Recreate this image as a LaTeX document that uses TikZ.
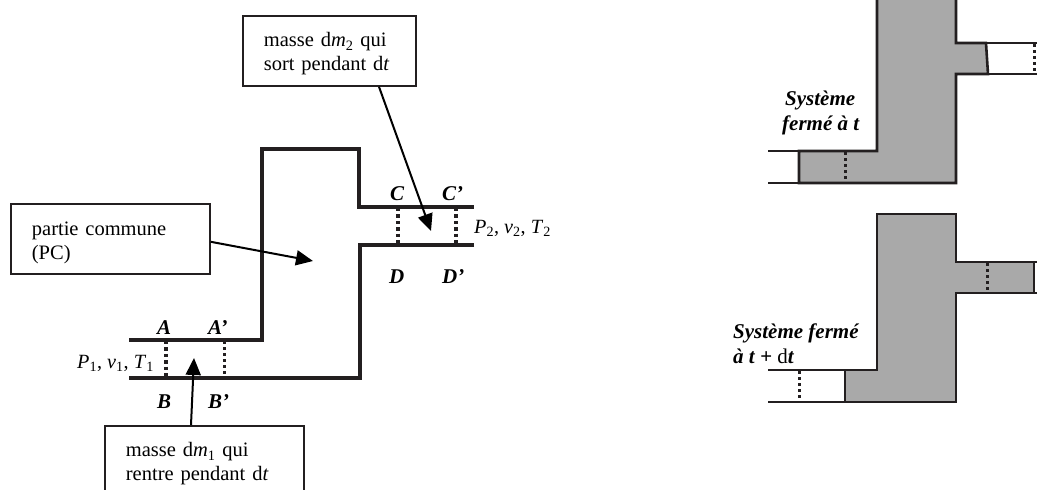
\documentclass[tikz,border=0pt]{standalone}
\usepackage{fontspec}
\setmainfont{Liberation Serif}
\usetikzlibrary{arrows.meta}
\definecolor{ink}{HTML}{231F20}
\definecolor{sysgray}{HTML}{A9A9A9}
\newcommand{\boxlines}[4]{\rule{0pt}{#1pt}#3\\#4\rule[-#2pt]{0pt}{0pt}}
\tikzset{
  x=1pt,y=-1pt,
  every node/.style={font=\fontsize{20.5}{24}\selectfont,text=black},
  callout/.style={draw=ink,line width=1.8pt,fill=white,align=left,inner xsep=21pt,inner ysep=0pt,anchor=north west},
  pointlabel/.style={anchor=base west,inner sep=0pt,font=\fontsize{21}{24}\selectfont\bfseries\itshape},
  statelabel/.style={anchor=base west,inner sep=0pt,font=\fontsize{20.2}{24}\selectfont},
  wall/.style={draw=ink,line width=3.3pt,line join=miter},
  wallthick/.style={draw=ink,line width=4.6pt,line join=miter},
  section/.style={draw=ink,line width=3.2pt,dash pattern=on 3.4pt off 3pt},
  sectionthin/.style={draw=ink,line width=3pt,dash pattern=on 3pt off 3pt},
  pointer/.style={draw=black,line width=2pt,-{Triangle[length=17pt,width=15pt]}},
  syswall/.style={draw=ink,line width=2.6pt,line join=miter},
  sysfill/.style={fill=sysgray,draw=ink,line width=2.6pt,line join=miter},
}
\begin{document}
\begin{tikzpicture}
\useasboundingbox (0,0) rectangle (1037,490);
% left diagram: walls
\draw[wall] (129,340) -- (262,340);
\draw[wallthick] (262,342) -- (262,149) -- (361,149);
\draw[wall] (359,148) -- (359,207) -- (474,207);
\draw[wall] (474,245) -- (360,245) -- (360,378) -- (129,378);
% sections
\draw[section] (166,341) -- (166,377);
\draw[sectionthin] (224,341) -- (224,377);
\draw[section] (398,208) -- (398,244);
\draw[section] (456,208) -- (456,244);
% callouts
\node[callout,text width=131pt,minimum height=70pt] (outbox) at (242,15)
  {\boxlines{22}{6}{masse d\textit{m}\textsubscript{2} qui}{sort pendant d\textit{t}}};
\node[callout,text width=157pt,minimum height=70pt] (pcbox) at (10,203)
  {\boxlines{24}{6}{partie commune}{(PC)}};
\node[callout,text width=157pt,minimum height=90pt] (inbox) at (104,425)
  {\boxlines{20}{24}{masse d\textit{m}\textsubscript{1} qui}{rentre pendant d\textit{t}}};
% pointers
\coordinate (outtip) at (431,231);
\coordinate (pctip) at (313,261);
\coordinate (intip) at (194,358);
\draw[pointer] ([xshift=137pt]outbox.south west) -- (outtip);
\draw[pointer] ([yshift=33pt]pcbox.south east) -- (pctip);
\draw[pointer] ([xshift=87pt]inbox.north west) -- (intip);
% point labels
\node[pointlabel] (lA) at (157,334) {A};
\node[pointlabel] (lAp) at (208,334) {A’};
\node[pointlabel] (lB) at (157,408) {B};
\node[pointlabel] (lBp) at (208,408) {B’};
\node[pointlabel] (lC) at (390,200) {C};
\node[pointlabel] (lCp) at (442,200) {C’};
\node[pointlabel] (lD) at (389,283) {D};
\node[pointlabel] (lDp) at (442,283) {D’};
\node[statelabel] (st1) at (77,368) {\textit{P}\textsubscript{1}, \textit{v}\textsubscript{1}, \textit{T}\textsubscript{1}};
\node[statelabel] (st2) at (474,233) {\textit{P}\textsubscript{2}, \textit{v}\textsubscript{2}, \textit{T}\textsubscript{2}};
% system closed at t
\path[sysfill] (799,151) -- (877,151) -- (877,-5) -- (956,-5) -- (956,43) -- (986,43)
  -- (988,74) -- (956,74) -- (956,183) -- (799,183) -- cycle;
\draw[syswall] (768,151) -- (799,151);
\draw[syswall] (768,183) -- (799,183);
\draw[syswall] (986,43) -- (1040,43);
\draw[syswall] (988,74) -- (1040,74);
\draw[sectionthin] (845,152) -- (845,182);
\draw[sectionthin] (1034,44) -- (1034,73);
\node[pointlabel] (sysA1) at (785,105) {Système};
\node[pointlabel] (sysA2) at (782,130) {fermé à t};
% system closed at t + dt
\path[sysfill] (845,370) -- (877,370) -- (877,214) -- (956,214) -- (956,262) -- (1034,262)
  -- (1034,293) -- (956,293) -- (956,402) -- (845,402) -- cycle;
\draw[syswall] (768,370) -- (845,370);
\draw[syswall] (768,402) -- (845,402);
\draw[syswall] (1034,262) -- (1040,262);
\draw[syswall] (1034,293) -- (1040,293);
\draw[sectionthin] (799,371) -- (799,401);
\draw[sectionthin] (987,263) -- (987,292);
\node[pointlabel] (sysB1) at (733,338) {Système fermé};
\node[pointlabel] (sysB2) at (733,363) {à t + {\normalfont d}t};
\end{tikzpicture}
\end{document}
